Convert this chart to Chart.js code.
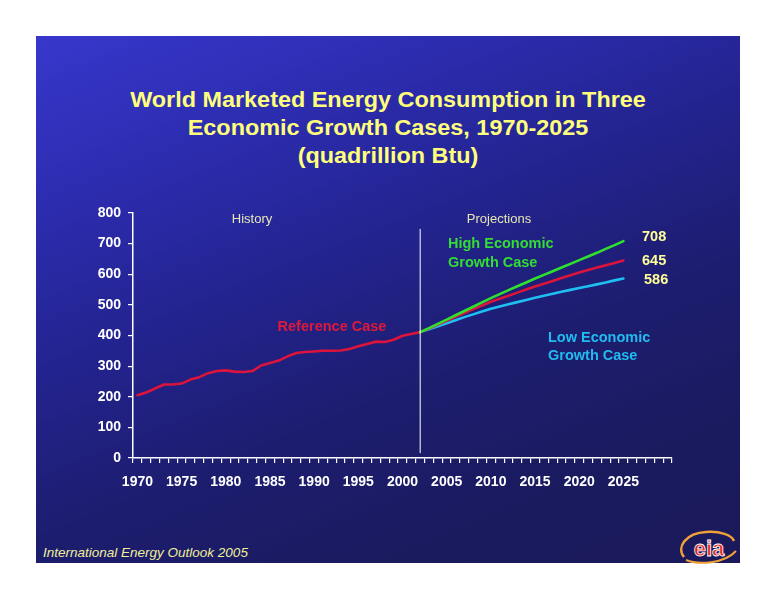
<!DOCTYPE html>
<html>
<head>
<meta charset="utf-8">
<script src="https://cdn.jsdelivr.net/npm/chart.js@4.4.1/dist/chart.umd.min.js"></script>
<style>
  html, body { margin: 0; padding: 0; background: #fff; }
  body { width: 776px; height: 600px; position: relative; overflow: hidden; font-family: "Liberation Sans", Arial, sans-serif; }
  #slide {
    position: absolute; left: 36px; top: 36px; width: 704px; height: 527px;
    background: linear-gradient(158deg, #3737cc 0%, #2d2db2 20%, #23238f 42%, #1d1d70 62%, #1a1a5f 82%, #19195a 100%);
  }
  .txt { position: absolute; white-space: nowrap; line-height: 1; }
  #title {
    position: absolute; left: 36px; top: 86px; width: 704px; text-align: center;
    color: #ffff7c; font-weight: bold; font-size: 22.4px; line-height: 28px;
    transform: scaleX(1.045); transform-origin: 352px 0;
  }
  #chartBox { position: absolute; left: 36px; top: 170px; width: 660px; height: 330px; }
  .hdr { color: #e6e6b4; font-size: 13px; }
  .bold { font-weight: bold; font-size: 14.5px; }
  .end { color: #ffff99; }
  #footer { left: 43px; top: 546px; color: #f0f09a; font-size: 13.5px; font-style: italic; }
  #logo { position: absolute; left: 676px; top: 527px; }
</style>
</head>
<body>
<div id="slide"></div>
<div id="title">World Marketed Energy Consumption in Three<br>Economic Growth Cases, 1970-2025<br>(quadrillion Btu)</div>
<div id="chartBox"><canvas id="chart"></canvas></div>

<div class="txt hdr" style="left:252px; top:212px; transform:translateX(-50%);">History</div>
<div class="txt hdr" style="left:499px; top:212px; transform:translateX(-50%);">Projections</div>
<div class="txt bold" style="left:332px; top:319px; transform:translateX(-50%); color:#e0183a;">Reference Case</div>
<div class="txt bold" style="left:448px; top:234px; line-height:19px; color:#33dd33;">High Economic<br>Growth Case</div>
<div class="txt bold" style="left:548px; top:328px; line-height:18px; color:#22bbf0;">Low Economic<br>Growth Case</div>
<div class="txt bold end" style="left:642px; top:229px;">708</div>
<div class="txt bold end" style="left:642px; top:253px;">645</div>
<div class="txt bold end" style="left:644px; top:272px;">586</div>
<div class="txt" id="footer">International Energy Outlook 2005</div>
<svg id="logo" width="64" height="38" viewBox="0 0 64 38">
  <path d="M8 30 C0 20 10 6 30 5 C44 4 56 8 58 14" fill="none" stroke="#f0a038" stroke-width="2.5"/>
  <path d="M10 33 C22 38 48 37 60 24" fill="none" stroke="#f0a038" stroke-width="2"/>
  <text x="33" y="29" text-anchor="middle" font-family="Liberation Sans, Arial, sans-serif" font-weight="bold" font-size="22" fill="#e02424" stroke="#ffffff" stroke-width="0.8">eia</text>
</svg>

<script>
// categories: every year on the axis, 1970-2030
const years = ['1970','1971','1972','1973','1974','1975','1976','1977','1978','1979',
  '1980','1981','1982','1983','1984','1985','1986','1987','1988','1989',
  '1990','1991','1992','1993','1994','1995','1996','1997','1998','1999',
  '2000','2001','2002','2003','2004','2005','2006','2007','2008','2009',
  '2010','2011','2012','2013','2014','2015','2016','2017','2018','2019',
  '2020','2021','2022','2023','2024','2025','2026','2027','2028','2029','2030'];
const tickYears = ['1970','1975','1980','1985','1990','1995','2000','2005','2010','2015','2020','2025'];
const yTicks = [0, 100, 200, 300, 400, 500, 600, 700, 800];

// history 1970-2002
const history = [205, 214, 227, 240, 240, 243, 256, 264, 277, 284,
  286, 282, 281, 284, 302, 310, 318, 332, 343, 346,
  348, 350, 350, 351, 356, 365, 372, 380, 379, 386,
  399, 405, 411];
// reference projection 2003-2025
const refProj = [423, 436, 448, 461, 473, 486, 498, 510, 520, 530, 540, 550,
  560, 569, 578, 588, 597, 606, 614, 622, 629, 637, 645];
// high and low growth 2002-2025
const highProj = [411, 424, 438, 452, 466, 480, 494, 508, 522, 535, 548, 561,
  573, 586, 598, 610, 622, 634, 646, 658, 670, 683, 695, 708];
const lowProj = [411, 420, 430, 440, 450, 460, 469, 478, 487, 495, 502, 509,
  516, 523, 530, 536, 543, 549, 555, 561, 567, 573, 580, 586];
const projStart = '2002';

const startIdx = years.indexOf(projStart);
const pad = Array(startIdx).fill(null);

const divider = {
  id: 'divider',
  afterDatasetsDraw(chart) {
    const x = chart.scales.x.getPixelForValue(startIdx);
    const y = chart.scales.y;
    const c = chart.ctx;
    c.save();
    c.strokeStyle = '#ffffff';
    c.lineWidth = 1;
    c.beginPath();
    c.moveTo(x, y.getPixelForValue(748));
    c.lineTo(x, y.getPixelForValue(16));
    c.stroke();
    c.restore();
  }
};

const tickFont = { family: 'Liberation Sans, Arial, sans-serif', size: 14, weight: 'bold' };

new Chart(document.getElementById('chart'), {
  type: 'line',
  data: {
    labels: years,
    datasets: [
      { label: 'High Economic Growth Case', data: pad.concat(highProj), borderColor: '#2fe02f', order: 0 },
      { label: 'Reference Case', data: history.concat(refProj), borderColor: '#dc143c', order: 1 },
      { label: 'Low Economic Growth Case', data: pad.concat(lowProj), borderColor: '#1fbff2', order: 2 }
    ].map(d => Object.assign(d, { borderWidth: 2.6, pointRadius: 0, tension: 0, fill: false, spanGaps: false, borderJoinStyle: 'round', borderCapStyle: 'round' }))
  },
  options: {
    responsive: true,
    maintainAspectRatio: false,
    animation: false,
    layout: { padding: { top: 43, right: 24, left: 0, bottom: 0 } },
    plugins: { legend: { display: false }, tooltip: { enabled: false } },
    scales: {
      x: {
        type: 'category',
        offset: true,
        afterFit: s => { s.height = 42; },
        grid: { display: true, drawOnChartArea: false, offset: true, color: '#ffffff', tickLength: 5, lineWidth: 1.2 },
        border: { display: true, color: '#ffffff', width: 1.5 },
        ticks: {
          autoSkip: false, maxRotation: 0, minRotation: 0, padding: 11,
          color: '#ffffff', font: tickFont,
          callback: function (v, i) { return tickYears.includes(years[i]) ? years[i] : ''; }
        }
      },
      y: {
        min: 0, max: 800,
        afterFit: s => { s.width = 97; },
        afterBuildTicks: s => { s.ticks = yTicks.map(v => ({ value: v })); },
        grid: { display: true, drawOnChartArea: false, color: '#ffffff', tickLength: 5, lineWidth: 1.2 },
        border: { display: true, color: '#ffffff', width: 1.5 },
        ticks: { color: '#ffffff', font: tickFont, padding: 7 }
      }
    }
  },
  plugins: [divider]
});
</script>
</body>
</html>
